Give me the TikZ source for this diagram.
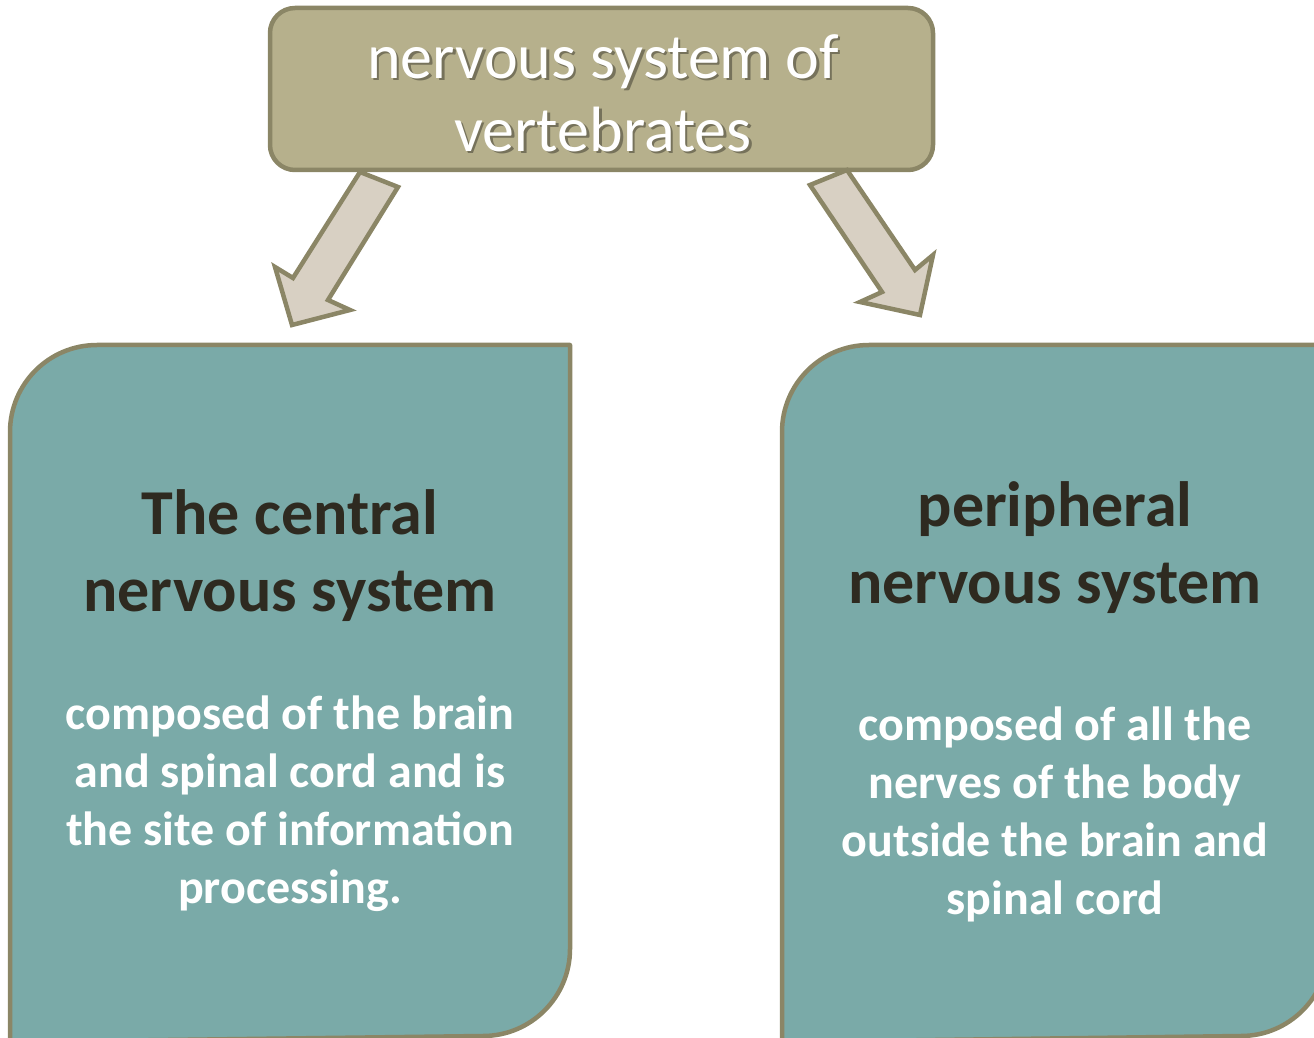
\documentclass[tikz,border=0pt]{standalone}
\usepackage{fontspec}
\setmainfont{Carlito}
\definecolor{olivefill}{HTML}{B6B08C}
\definecolor{edgecol}{HTML}{8B8666}
\definecolor{arrowfill}{HTML}{D8D0C3}
\definecolor{tealfill}{HTML}{7AAAA8}
\definecolor{headtext}{HTML}{2E2A20}
\tikzset{
  edged/.style={draw=edgecol,line width=4.5pt,line join=round},
  titletext/.style={align=center,text=white,font=\fontsize{64}{73}\selectfont,inner sep=0pt},
  headtxt/.style={align=center,text=headtext,font=\bfseries\fontsize{64}{77}\selectfont,inner sep=0pt},
  bodytxt/.style={align=center,text=white,font=\bfseries\fontsize{48}{58}\selectfont,inner sep=0pt},
}
\begin{document}
\begin{tikzpicture}[x=1pt,y=1pt]
\useasboundingbox (0,0) rectangle (1314,1037);
\clip (0,0) rectangle (1314,1037);
% top box
\draw[edged,fill=olivefill,rounded corners=25pt] (270,867) rectangle (933,1029);
\node[titletext,text=black,opacity=0.35] at (605.5,941.5) {nervous system of\\vertebrates};
\node[titletext] (title) at (603,944) {nervous system of\\vertebrates};
% arrows
\draw[edged,fill=arrowfill,line join=miter]
  (360,865) -- (398,850) -- (328,737) -- (350,727) -- (292,712) -- (275,770) -- (293,759) -- cycle;
\draw[edged,fill=arrowfill,line join=miter]
  (810,852) -- (847,867) -- (915,767) -- (933,782) -- (920,722) -- (860,735) -- (882,745) -- cycle;
% left box
\draw[edged,fill=tealfill]
  (10,-5) -- (10,605) arc[start angle=180,end angle=90,radius=87pt]
  -- (570,692) -- (570,88) arc[start angle=0,end angle=-90,radius=87pt] -- cycle;
% right box
\draw[edged,fill=tealfill]
  (782,-5) -- (782,605) arc[start angle=180,end angle=90,radius=87pt]
  -- (1328,692) -- (1328,88) arc[start angle=0,end angle=-90,radius=87pt] -- cycle;
% texts
\node[headtxt] (cnshead) at (290,481) {The central\\nervous system};
\node[bodytxt] (cnsbody) at (290,233) {composed of the brain\\and spinal cord and is\\the site of information\\processing.};
\node[headtxt] (pnshead) at (1055,489) {peripheral\\nervous system};
\node[bodytxt] (pnsbody) at (1055,223) {composed of all the\\nerves of the body\\outside the brain and\\spinal cord};
\end{tikzpicture}
\end{document}
